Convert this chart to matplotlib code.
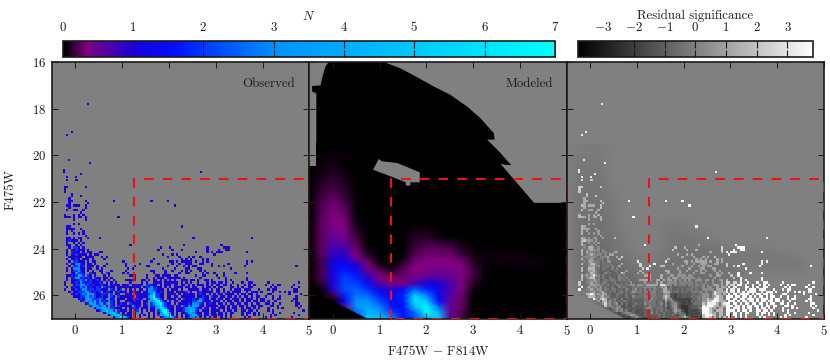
import numpy as np
import matplotlib
matplotlib.use("Agg")
import matplotlib.pyplot as plt
from matplotlib.colors import LinearSegmentedColormap, Normalize
from matplotlib.cm import ScalarMappable
from matplotlib.patches import Polygon

plt.rcParams['font.family'] = ['cmr10', 'DejaVu Sans']
plt.rcParams['mathtext.fontset'] = 'cm'
plt.rcParams['axes.unicode_minus'] = False
plt.rcParams['axes.formatter.use_mathtext'] = True

# ---- observed: isolated bright stars
star_color = [0.26, -0.08, -0.185, -0.13, 0.32, -0.235, -0.235, 0.11, -0.185, 0.02, 2.68]
star_mag = [17.81, 19.01, 19.11, 20.21, 20.33, 20.64, 20.72, 20.81, 20.93, 20.93, 20.73]

# ---- observed counts, one string per 0.1 mag from 21.0, one char per 0.05 colour from -0.5
OBS_ROWS = [
 "......1... 1...",
 "",
 "",
 ".....11... ....1",
 ".....1",
 ".....1",
 "........1.",
 "........1. ..1",
 ".......1",
 ".......11. ....1..... ......1... .......... ..1......1",
 ".......1.. .....1....",
 "......11.1 11..1..... .......... .......... .......... ..1",
 ".......1.. ....1",
 "......1..1 1..1",
 ".......... ..1",
 ".....1...1 .1.1",
 ".....111.1 .11.1..... ........1.",
 ".........1 ....1",
 "",
 ".........1 .1",
 "......11.. .......... .......... .......... .......... .....1",
 "......1111 ..1",
 "......1.1. ...1",
 "......1..1 .1.1",
 ".......... ....1",
 "......11.1 .11..1.... 1......... .......... .......... .......... 1......... .......... .....1",
 "......1211 1.1",
 "......1..1 .1.1",
 "......11.. 1.1....... .......... ...1...... .......... ......1... .......... ..1",
 ".......1.2 21.1...... .......... .......... ......1... 1......... ......1... ...111....",
 "......1.11 2111.1.... .......... .......... .....1.... .1...1.... ......1... .1..11....",
 "......1.21 11.1.11... 11........ .......... .......... .......... .1....1.1. 111....... ...1......",
 "......1.11 21111.1.11 .......... .......... .......1.. .1.1...... .........1 ..........",
 ".......111 111.1111.. .1.1...... .......... .........1 ....1...1. 1..1......",
 "......1.11 21.111.1.. ..1....... .......... ...1...... .....1.1.1 ....1.1...",
 ".......1.2 2111.1.11. .......... 1......... ..1....... 11.1.11111 .1..1.1... .......... ...1.1....",
 "......1.11 3321.11.1. ...1...... .1.....1.. .....1.... .1..1..111 ...11...1. .....1.... ...1......",
 ".......1.2 2312.111.1 ..1....... .1...1.... 11.......1 ...1..1.1. 11......1. .1.1...... ..1....... .......... ....1.....",
 "......1.13 3311.11..1 .1........ ..1.1..... .......1.. ..1....11. ..11...... ......1...",
 "......1.12 2321.1.1.. 11...1.... .1........ ..11....1. .1...1.1.1 ...1.1....",
 "........11 3221..211. .1.21..... 1.1....... ...1....1. ....1..11. ....1.1..1 ...1....1. ...1......",
 "......1121 2432.21.1. ..1.1..... ...111.... 1...11.111 1.11...... .1..11.... 1..1......",
 "......1.12 3312121.21 1.11.1.... .....1.... 1..1.111.1 11111.1... ...1...... .1..1..... ...1......",
 "......1.11 1232.12112 1.1.1.1... .11111..11 .1.11.1.1. 1.1..111.1 1.1..11.1. ....1.1... ...1......",
 ".....1..11 2132122111 21.1.1.1.. ...1....1. 1..1111.11 1111.1.1.1 ..1...1.11 .11.1..1.. .1..11.... ..1....... .....1....",
 ".....1...1 2233221211 1211.1111. 111.11111. 22111.1.11 1.11.11.1. 1.111.1.1. 11.11.1..1 ..1.1.1... .1..1.11.. ...1......",
 "......1.12 1132312112 1.21211.11 11111111.1 2231211.1. 1.1111.11. 11..1.11.1 .11...11.1 .1..11.... ...1.1.... ..1..1....",
 ".....1..11 2123312212 2111.21.12 .1.1.1.11. 13322111.1 .111.1..11 111.111.1. 11.1..1.11 1.111...1. ..1.11.... ...11.....",
 ".......1.1 1222342121 2.1211.121 11.11111.1 13342121.1 11.11112.1 ..1211111. 11.1.1.111 1..1.111.1 ....1..1.1 .1.11.....",
 "........11 2123243.21 1221.2.11. .111.11111 12362211.1 111.1.1111 1.1211.1.1 .11.1111.1 .11.11.1.. ..11...... .1....1...",
 ".........1 1122342321 1211.21.21 11111.1111 13572211.1 1.11.11111 1.11211.21 1.11.11.1. 1.11.1.11. .1..1..1.. ....1.....",
 ".......... .121343222 3213.12.11 1.1111211. 12467321.1 111.1.2111 2113211.11 .11.11.111 .1.111.1.1 1...1.11.. ...11.....",
 ".......... ..12.33242 3121321.1. .1111211.1 1.3467321. 1.11.11111 22342111.1 11.1.11.11 .1.11.11.1 1.1..1.... ..1.1.....",
 ".......... ....124342 3413.21.12 11.21111.1 2.23567321 1.1.111121 33321.1211 .11.1.11.1 1.11.1.11. .11.1..1.. ....11....",
 ".......... ......2343 2341.21.21 1111.211.1 1.22356421 11.11.2132 44311.1111 1.11.1.11. 11.1.11.11 ...11.1... ....1.1...",
 ".......... ........13 3443.22111 .1.1221.11 1.11346631 11.1112344 3211.11.11 .111.1.11. .1.11.1.1. ..1...1.1. .....1....",
 ".......... .........1 2345342.21 11.1.12.1. 1.11.24773 11.1112335 421.111.11 11.1.11.1. .11.11.1.. ..1.1..... .......1..",
 ".......... .......... ..1345532. 1.11.13.1. .1.1.13575 31.1.11234 3211.11.11 .11.1.11.. .1.11.1.1. ....1..1.. ...1......",
 ".......... .......... ....134553 2111.1.1.1 .1.1.2.356 71.1.1.123 4421.11.11 .11.1.1... .1.1..1.1. ...1.1.... .....1....",
 ".......... .......... ......1346 5321.1.1.. .1.1..1234 7421.1.123 32.1.1.1.1 ..1.1.1... ..1.1..... .1.1...... ..1.......",
]

# ---- modeled surface
model_colors = [-0.5, -0.25, 0, 0.25, 0.5, 0.75, 1, 1.25, 1.5, 1.75, 2, 2.25, 2.5, 2.75, 3, 3.25, 3.5, 3.75, 4, 4.25, 4.5, 4.75, 5]
model_mags = [19.5, 20, 20.5, 21, 21.5, 22, 22.5, 23, 23.5, 24, 24.25, 24.5, 24.75, 25, 25.25, 25.5, 25.75, 26, 26.25, 26.5, 26.75, 27]
model_rows = [
 [0, .01, .02, .01, 0],
 [0, .04, .06, .03, 0],
 [0, .07, .09, .05, 0],
 [0, .10, .15, .09, 0],
 [0, .15, .20, .15, .01],
 [0, .20, .30, .20, .03],
 [0, .22, .33, .28, .05],
 [0, .25, .36, .33, .10, 0, 0, 0, .02, .05, .03],
 [0, .25, .50, .42, .18, .02, 0, 0, .02, .12, .12, .07, .02],
 [0, .25, .75, .70, .30, .05, 0, 0, .02, .18, .25, .25, .22, .12, .03, .02, .02, .01],
 [0, .25, .80, .90, .35, .12, .02, 0, .05, .22, .28, .30, .30, .18, .08, .06, .07, .07, .06, .03],
 [0, .20, 1.0, 1.2, .60, .25, .05, .02, .10, .28, .33, .33, .33, .30, .12, .08, .08, .08, .08, .07, .06],
 [0, .20, 1.2, 1.5, 1.0, .33, .12, .05, .20, .33, .35, .38, .38, .33, .15, .03, .03, .07, .08, .07, .05],
 [0, .20, 1.1, 1.8, 1.4, .55, .28, .15, .25, .35, .40, .45, .45, .38, .20, .05, 0, .01, .02, .02, .01],
 [0, .20, 1.0, 2.1, 1.8, .90, .33, .30, .30, .45, .60, .65, .55, .38, .18, .03],
 [0, .15, 1.0, 2.2, 2.1, 1.4, .60, .35, .35, .70, 1.0, 1.0, .70, .35, .12],
 [0, .05, .90, 2.2, 2.4, 1.9, 1.2, .90, 1.4, 2.4, 1.8, 1.3, .70, .33, .08],
 [0, 0, .20, 1.8, 2.7, 2.5, 1.7, 1.1, 1.8, 5.0, 2.8, 1.4, .60, .30, .04],
 [0, 0, 0, 1.2, 3.0, 3.1, 2.2, 1.4, 1.7, 6.0, 5.0, 1.6, .55, .28, .02],
 [0, 0, 0, .50, 3.2, 3.8, 2.8, 1.6, 1.6, 4.5, 6.8, 2.6, .50, .25],
 [0, 0, 0, .10, 2.5, 4.5, 3.6, 2.2, 1.5, 2.5, 6.8, 4.5, .50, .22],
 [0, 0, 0, 0, 1.0, 5.0, 5.0, 3.0, 1.6, 2.2, 4.0, 5.5, .60, .20],
]

# footprint of the model (outline, colour / mag)
foot_color = [-0.085, -0.157, -0.228, -0.26, -0.44, -0.44, -0.35, -0.35, -0.5, -0.5, 5, 5, 4.295, 3.87, 3.58, 3.80, 3.58, 3.30, 3.46, 3.44, 3.155, 2.87, 2.514, 2.158, 1.80, 1.446, 1.09]
foot_mag = [16, 16.2, 16.7, 17, 17.03, 17.27, 17.34, 20.47, 20.47, 27, 27, 22.04, 22.04, 21.04, 20.36, 20.43, 19.9, 19.33, 19.33, 19.05, 18.41, 17.91, 17.41, 17.05, 16.65, 16.27, 16]
hole_color = [0.983, 1.05, 1.375, 1.86, 1.86, 1.66, 1.66, 1.56, 1.56, 1.23, 0.862]
hole_mag = [20.16, 20.26, 20.33, 20.73, 21.16, 21.16, 21.3, 21.3, 21.16, 20.9, 20.62]
# lower-left corner below which the model is empty
cut_color = [-0.5, -0.33, 0.73, -0.5]
cut_mag = [25.93, 25.93, 27, 27]

box_color = [1.25, 1.25, 5, 5, 1.25]
box_mag = [27, 21, 21, 27, 27]

xticks = [0, 1, 2, 3, 4, 5]
yticks = [16, 18, 20, 22, 24, 26]
n_ticks = [0, 1, 2, 3, 4, 5, 6, 7]
sig_ticks = [-3, -2, -1, 0, 1, 2, 3]
GRAY = '#808080'
INK = '#1a1a1a'

hess = LinearSegmentedColormap.from_list('hess', [
    (0, '#000000'), (0.05 / 7, '#0a000a'), (0.33 / 7, '#800080'), (1 / 7, '#1a00d8'),
    (1.6 / 7, '#0010ff'), (2 / 7, '#0038ff'), (3 / 7, '#0090ff'), (5 / 7, '#00c8ff'), (1, '#00ffff')])
nnorm = Normalize(0, 7)
snorm = Normalize(-3.83, 3.83)

W, H = 830, 360
fig = plt.figure(figsize=(8.3, 3.6), dpi=100)
FS = 9.3


def rect(x0, y0, x1, y1):
    return [x0 / W, 1 - y1 / H, (x1 - x0) / W, (y1 - y0) / H]


obs = np.zeros((60, 110))
for j, row in enumerate(OBS_ROWS):
    s = ''.join(g.ljust(10, '.') for g in row.split())[:110]
    for i, ch in enumerate(s):
        if ch != '.':
            obs[j, i] = int(ch)
cedges = np.linspace(-0.5, 5, 111)
medges = np.linspace(21, 27, 61)

model = np.zeros((len(model_mags), len(model_colors)))
for j, row in enumerate(model_rows):
    model[j, :len(row)] = row

panels = [(52, 309.3), (309.3, 566.8), (566.8, 824)]
axes = []
for k, (x0, x1) in enumerate(panels):
    ax = fig.add_axes(rect(x0, 62, x1, 318.5))
    ax.set_facecolor(GRAY)
    ax.set_xlim(-0.5, 5)
    ax.set_ylim(27, 16)
    ax.set_xticks(xticks)
    ax.set_yticks(yticks)
    ax.tick_params(direction='in', top=True, right=True, length=4, width=0.7, color=INK,
                   labelsize=FS, labelcolor=INK, pad=4, labelleft=(k == 0))
    for sp in ax.spines.values():
        sp.set_linewidth(1.2)
        sp.set_color(INK)
        sp.set_zorder(3)
    axes.append(ax)

# observed
ax = axes[0]
ax.pcolormesh(cedges, medges, np.ma.masked_equal(obs, 0), cmap=hess, norm=nnorm, zorder=1)
ax.scatter(star_color, star_mag, s=3.5, marker='s', color='#1400e0', linewidths=0, zorder=1)

# modeled
ax = axes[1]
foot = Polygon(np.column_stack([foot_color, foot_mag]), closed=True, fc='black', ec='none', zorder=0.5)
ax.add_patch(foot)
m = ax.pcolormesh(model_colors, model_mags, model, cmap=hess, norm=nnorm, shading='gouraud', zorder=1)
m.set_clip_path(foot)
ax.add_patch(Polygon(np.column_stack([cut_color, cut_mag]), closed=True, fc='black', ec='none', zorder=1.5))
ax.add_patch(Polygon(np.column_stack([hole_color, hole_mag]), closed=True, fc=GRAY, ec='none', zorder=1.5))

# residual
ax = axes[2]
ax.pcolormesh(model_colors, model_mags, -0.7 * np.sqrt(model), cmap='gray', norm=snorm, shading='gouraud', zorder=1)
ax.add_patch(Polygon(np.column_stack([cut_color, cut_mag]), closed=True, fc=GRAY, ec='none', zorder=1.5))
cc = 0.5 * (cedges[:-1] + cedges[1:])
mc = 0.5 * (medges[:-1] + medges[1:])
ci = np.abs(np.subtract.outer(cc, model_colors)).argmin(axis=1)
mi = np.abs(np.subtract.outer(mc, model_mags)).argmin(axis=1)
local = np.maximum(model[np.ix_(mi, ci)], 0.02)
resid = (obs - local) / np.sqrt(local)
ax.pcolormesh(cedges, medges, np.ma.masked_where(obs == 0, resid), cmap='gray', norm=snorm, zorder=2)
ax.scatter(star_color, star_mag, s=3.5, marker='s', color='#e8e8e8', linewidths=0, zorder=2)

for ax, lab in zip(axes[:2], ['Observed', 'Modeled']):
    ax.text(0.945, 0.915, lab, transform=ax.transAxes, ha='right', va='center', fontsize=FS, color=INK, zorder=5)
for ax in axes:
    ax.plot(box_color, box_mag, color='#ee1111', lw=1.5, dashes=(4.6, 4.4), zorder=4)

# colour bars
cax1 = fig.add_axes(rect(62.7, 41, 555, 56.5))
cb1 = fig.colorbar(ScalarMappable(norm=nnorm, cmap=hess), cax=cax1, orientation='horizontal')
cb1.set_ticks(n_ticks)
cax2 = fig.add_axes(rect(577.5, 41, 813, 56.5))
cb2 = fig.colorbar(ScalarMappable(norm=snorm, cmap='gray'), cax=cax2, orientation='horizontal')
cb2.set_ticks(sig_ticks)
cb2.set_ticklabels([f'${v}$' for v in sig_ticks])
for cb in (cb1, cb2):
    cb.minorticks_off()
    cb.ax.xaxis.set_ticks_position('both')
    cb.ax.xaxis.set_label_position('top')
    cb.ax.tick_params(axis='x', direction='in', top=True, bottom=True, labeltop=True, labelbottom=False,
                      length=4.8, width=0.8, color=INK, labelsize=FS, labelcolor=INK, pad=5)
    cb.outline.set_linewidth(1.2)
    cb.outline.set_edgecolor(INK)

fig.text(309 / W, 1 - 16 / H, r'$N$', ha='center', va='center', fontsize=FS, color=INK)
fig.text(695 / W, 1 - 16 / H, 'Residual significance', ha='center', va='center', fontsize=FS, color=INK)
fig.text(438 / W, 1 - 351 / H, r'F475W $-$ F814W', ha='center', va='center', fontsize=FS, color=INK)
fig.text(11 / W, 1 - 190 / H, 'F475W', ha='center', va='center', rotation=90, fontsize=FS, color=INK)

fig.savefig('out.png', dpi=100)
